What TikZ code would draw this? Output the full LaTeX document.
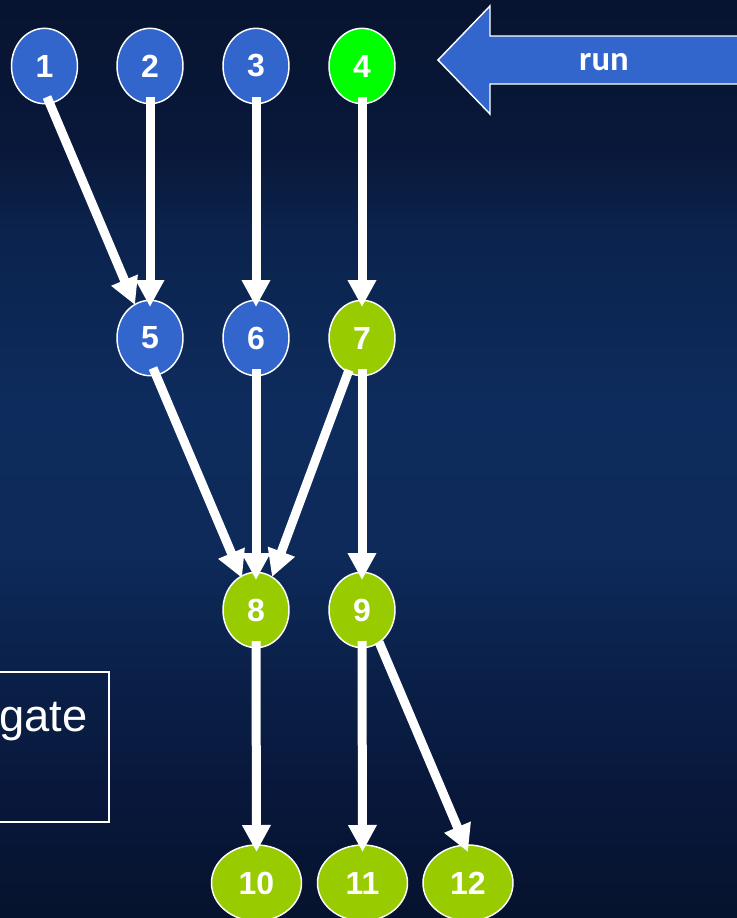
\documentclass[tikz,border=0pt]{standalone}
\usepackage{fontspec}
\setmainfont{Liberation Sans}
\newfontfamily\runfont{Carlito}
\usetikzlibrary{shapes.geometric,arrows.meta,calc}

\definecolor{nodeblue}{HTML}{3366CC}
\definecolor{nodegreen}{HTML}{00FF00}
\definecolor{nodeolive}{HTML}{99CC00}
\definecolor{bgA}{HTML}{071430}
\definecolor{bgB}{HTML}{09183A}
\definecolor{bgC}{HTML}{0B234D}
\definecolor{bgD}{HTML}{0D2B5C}
\definecolor{bgE}{HTML}{0D2A5A}
\definecolor{bgF}{HTML}{0A1E45}
\definecolor{bgG}{HTML}{08173A}
\definecolor{bgH}{HTML}{06132E}

% slide backdrop: dark navy, lighter band through the middle
\pgfdeclareverticalshading{slidebg}{100bp}{%
  color(0bp)=(bgH); color(25bp)=(bgH); color(31.4bp)=(bgG);
  color(36.9bp)=(bgF); color(45bp)=(bgE); color(53.2bp)=(bgD);
  color(62.5bp)=(bgC); color(66.8bp)=(bgB); color(75bp)=(bgA);
  color(100bp)=(bgA)}

\tikzset{
  job/.style={ellipse, draw=white, line width=1.1pt, inner sep=0pt,
    minimum width=49.5pt, minimum height=56.5pt, text=white,
    font=\fontsize{24}{24}\selectfont\bfseries},
  widejob/.style={job, minimum width=67.5pt, minimum height=57pt},
  blue job/.style={job, fill=nodeblue},
  done job/.style={job, fill=nodegreen},
  wait job/.style={job, fill=nodeolive},
  wait wide/.style={widejob, fill=nodeolive},
  dep/.style={draw=white, line width=6.75pt,
    -{Triangle[width=20.25pt, length=20.25pt]}},
}

\begin{document}
\begin{tikzpicture}[x=0.75pt, y=-0.75pt]
  \useasboundingbox (0,0) rectangle (737,918);
  \fill[shading=slidebg] (0,0) rectangle (737,918);
  \clip (0,0) rectangle (737,918);

  % text box at the left edge
  \draw[white, line width=1pt] (-30,672) rectangle (109,822);
  \node[anchor=base east, text=white, inner sep=0pt,
        font=\fontsize{34}{34}\selectfont] (gatetxt) at (88,731) {gate};

  % "run" pointer
  \draw[white, line width=1.1pt, fill=nodeblue]
    (438,60) -- (490,6) -- (490,36) -- (760,36) -- (760,84)
    -- (490,84) -- (490,114) -- cycle;
  \node[text=white, font=\fontsize{26}{26}\runfont\bfseries] (runlbl) at (604,62) {run};

  % jobs
  \node[blue job] (n1) at (44.5,66) {1};
  \node[blue job] (n2) at (150,66) {2};
  \node[blue job] (n3) at (256,66) {3};
  \node[done job] (n4) at (362,66) {4};
  \node[blue job] (n5) at (150,338) {5};
  \node[blue job] (n6) at (256,338) {6};
  \node[wait job] (n7) at (362,338) {7};
  \node[wait job] (n8) at (256,610) {8};
  \node[wait job] (n9) at (362,610) {9};
  \node[wait wide] (n10) at (256.5,883) {10};
  \node[wait wide] (n11) at (362.5,883) {11};
  \node[wait wide] (n12) at (468,883) {12};

  % dependencies
  \draw[dep] ($(n1)+(2.5,31)$) -- ($(n5)+(-15,-33)$);
  \draw[dep] ($(n2)+(0,31)$) -- ($(n5)+(0,-31)$);
  \draw[dep] ($(n3)+(0,31)$) -- ($(n6)+(0,-31)$);
  \draw[dep] ($(n4)+(0,31)$) -- ($(n7)+(0,-31)$);
  \draw[dep] ($(n5)+(3,30)$) -- ($(n8)+(-14,-32)$);
  \draw[dep] ($(n6)+(0,31)$) -- ($(n8)+(0,-30)$);
  \draw[dep] ($(n7)+(-13,32)$) -- ($(n8)+(16,-33)$);
  \draw[dep] ($(n7)+(0,31)$) -- ($(n9)+(0,-30)$);
  \draw[dep] ($(n8)+(0,31)$) -- ($(n10)+(0,-31)$);
  \draw[dep] ($(n9)+(0,31)$) -- ($(n11)+(0,-31)$);
  \draw[dep] ($(n9)+(17,32)$) -- ($(n12)+(0,-31)$);
\end{tikzpicture}
\end{document}
